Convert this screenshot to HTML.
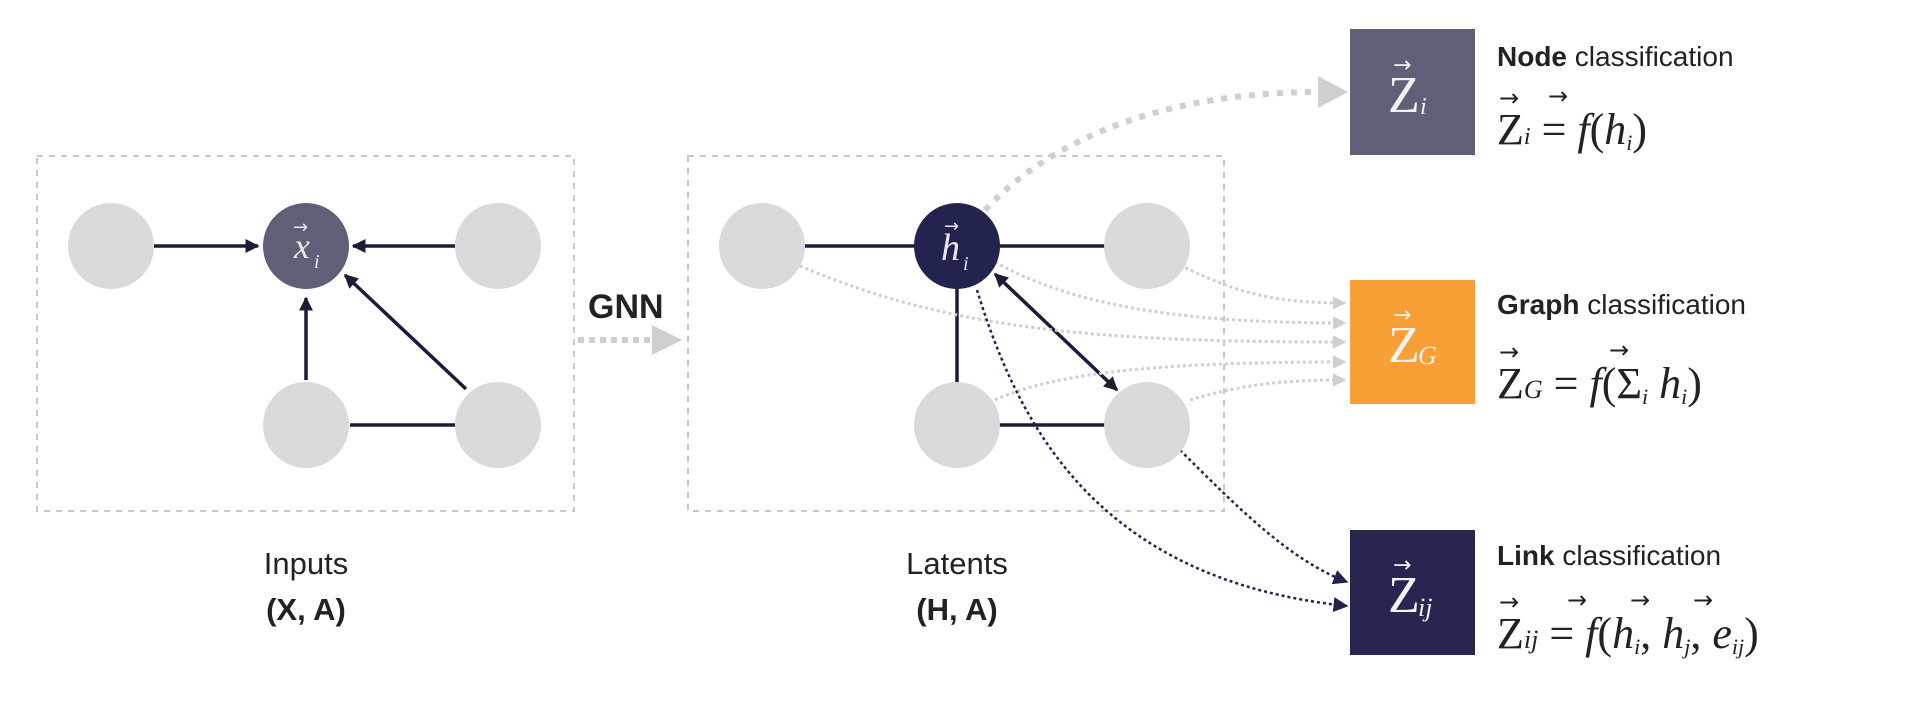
<!DOCTYPE html>
<html><head><meta charset="utf-8"><style>
html,body{margin:0;padding:0;background:#fff;}
svg{display:block}
.lbl{font-family:"Liberation Sans",sans-serif;fill:#222;}
.m{font-family:"Liberation Serif",serif;font-style:italic;}
</style></head><body>
<svg width="1905" height="709" viewBox="0 0 1905 709" xmlns="http://www.w3.org/2000/svg">
<defs>
<marker id="ak" viewBox="0 0 10 10" refX="9" refY="5" markerWidth="4" markerHeight="4" orient="auto-start-reverse"><path d="M0,0 L10,5 L0,10 z" fill="#1c1c38"/></marker>
<marker id="ag" viewBox="0 0 10 10" refX="9" refY="5" markerWidth="4.5" markerHeight="4.5" orient="auto"><path d="M0,0 L10,5 L0,10 z" fill="#cfcfcf"/></marker>
<marker id="ad" viewBox="0 0 10 10" refX="9" refY="5" markerWidth="6" markerHeight="6" orient="auto"><path d="M0,0 L10,5 L0,10 z" fill="#23234f"/></marker>
</defs>

<rect x="37" y="156" width="537" height="355" fill="none" stroke="#c8c8c8" stroke-width="2" stroke-dasharray="6,6"/>
<rect x="688" y="156" width="536" height="355" fill="none" stroke="#c8c8c8" stroke-width="2" stroke-dasharray="6,6"/>

<g stroke="#1c1c38" stroke-width="3.5" fill="none">
<line x1="154" y1="246" x2="258" y2="246" marker-end="url(#ak)"/>
<line x1="455" y1="246" x2="353" y2="246" marker-end="url(#ak)"/>
<line x1="306" y1="380" x2="306" y2="298" marker-end="url(#ak)"/>
<line x1="466" y1="389" x2="345" y2="275" marker-end="url(#ak)"/>
<line x1="350" y1="425" x2="455" y2="425"/>
</g>
<g fill="#dadada">
<circle cx="111" cy="246" r="43"/><circle cx="498" cy="246" r="43"/>
<circle cx="306" cy="425" r="43"/><circle cx="498" cy="425" r="43"/>
</g>
<circle cx="306" cy="246" r="43" fill="#5f5f78"/>
<text x="294" y="258" class="m" font-size="36" fill="#e8e8ee">x</text>
<text x="314" y="268" class="m" font-size="20" fill="#e8e8ee">i</text>
<text x="293" y="233" font-size="18" fill="#e8e8ee" font-family="DejaVu Sans">→</text>

<text x="588" y="318" class="lbl" font-size="34" font-weight="bold" fill="#2e3340">GNN</text>
<line x1="578" y1="340" x2="655" y2="340" stroke="#cfcfcf" stroke-width="6" stroke-dasharray="6,5"/>
<path d="M652,325 L682,340 L652,355 z" fill="#cfcfcf"/>

<g stroke="#1c1c38" stroke-width="3.5" fill="none">
<line x1="762" y1="246" x2="1147" y2="246"/>
<line x1="957" y1="246" x2="957" y2="425"/>
<line x1="957" y1="425" x2="1147" y2="425"/>
<line x1="995" y1="274" x2="1117" y2="390" marker-start="url(#ak)" marker-end="url(#ak)"/>
</g>
<g stroke="#cfcfcf" stroke-width="3" fill="none" stroke-dasharray="3,3">
<path d="M1180,265 C1240,295 1280,303 1345,303" marker-end="url(#ag)"/>
<path d="M995,262 C1080,310 1200,323 1345,323" marker-end="url(#ag)"/>
<path d="M800,266 C950,330 1100,342 1345,342" marker-end="url(#ag)"/>
<path d="M995,400 C1060,370 1180,362 1345,362" marker-end="url(#ag)"/>
<path d="M1190,400 C1240,385 1280,380 1345,380" marker-end="url(#ag)"/>
</g>
<path d="M985,210 C1060,130 1180,92 1320,92" stroke="#cfcfcf" stroke-width="6" fill="none" stroke-dasharray="6,8"/>
<path d="M1318,76 L1348,92 L1318,108 z" fill="#cfcfcf"/>
<g stroke="#23234f" stroke-width="2.5" fill="none" stroke-dasharray="3,3">
<path d="M1180,450 C1240,510 1290,560 1347,582" marker-end="url(#ad)"/>
<path d="M977,290 C1020,430 1100,580 1347,606" marker-end="url(#ad)"/>
</g>
<g fill="#dadada">
<circle cx="762" cy="246" r="43"/><circle cx="1147" cy="246" r="43"/>
<circle cx="957" cy="425" r="43"/><circle cx="1147" cy="425" r="43"/>
</g>
<circle cx="957" cy="246" r="43" fill="#23234f"/>
<text x="941" y="260" class="m" font-size="38" fill="#e8e8ee">h</text>
<text x="963" y="270" class="m" font-size="20" fill="#e8e8ee">i</text>
<text x="944" y="232" font-size="18" fill="#e8e8ee" font-family="DejaVu Sans">→</text>

<text x="306" y="574" class="lbl" font-size="31" text-anchor="middle">Inputs</text>
<text x="306" y="620" class="lbl" font-size="31" font-weight="bold" text-anchor="middle">(X, A)</text>
<text x="957" y="574" class="lbl" font-size="31" text-anchor="middle">Latents</text>
<text x="957" y="620" class="lbl" font-size="31" font-weight="bold" text-anchor="middle">(H, A)</text>

<rect x="1350" y="29" width="125" height="126" fill="#5f5f78"/>
<rect x="1350" y="280" width="125" height="124" fill="#f8a036"/>
<rect x="1350" y="530" width="125" height="125" fill="#262650"/>
<g fill="#f2f2f5" class="m">
<text x="1388" y="112" font-size="52" font-style="normal">Z</text><text x="1420" y="114" font-size="24">i</text>
<text x="1393" y="72" font-size="22" font-family="DejaVu Sans" font-style="normal">→</text>
<text x="1388" y="362" font-size="52" font-style="normal">Z</text><text x="1418" y="364" font-size="26">G</text>
<text x="1393" y="322" font-size="22" font-family="DejaVu Sans" font-style="normal">→</text>
<text x="1388" y="612" font-size="52" font-style="normal">Z</text><text x="1418" y="616" font-size="26">ij</text>
<text x="1393" y="572" font-size="22" font-family="DejaVu Sans" font-style="normal">→</text>
</g>

<g class="lbl" font-size="28">
<text x="1497" y="66"><tspan font-weight="bold">Node</tspan> classification</text>
<text x="1497" y="314"><tspan font-weight="bold">Graph</tspan> classification</text>
<text x="1497" y="565"><tspan font-weight="bold">Link</tspan> classification</text>
</g>
<g font-family="Liberation Serif,serif" fill="#222" font-size="44">
<text x="1497" y="144">Z<tspan font-size="24" font-style="italic">i</tspan> = <tspan font-style="italic">f</tspan>(<tspan font-style="italic">h</tspan><tspan font-size="22" font-style="italic" dy="6">i</tspan><tspan dy="-6">)</tspan></text>
<text x="1497" y="398">Z<tspan font-size="26" font-style="italic">G</tspan> = <tspan font-style="italic">f</tspan>(Σ<tspan font-size="22" font-style="italic" dy="6">i</tspan><tspan dy="-6"> </tspan><tspan font-style="italic">h</tspan><tspan font-size="22" font-style="italic" dy="6">i</tspan><tspan dy="-6">)</tspan></text>
<text x="1497" y="648">Z<tspan font-size="26" font-style="italic">ij</tspan> = <tspan font-style="italic">f</tspan>(<tspan font-style="italic">h</tspan><tspan font-size="22" font-style="italic" dy="6">i</tspan><tspan dy="-6">, </tspan><tspan font-style="italic">h</tspan><tspan font-size="22" font-style="italic" dy="6">j</tspan><tspan dy="-6">, </tspan><tspan font-style="italic">e</tspan><tspan font-size="22" font-style="italic" dy="6">ij</tspan><tspan dy="-6">)</tspan></text>
</g>
<g font-family="DejaVu Sans" fill="#222" font-size="24">
<text x="1499" y="106">→</text><text x="1548" y="104">→</text>
<text x="1499" y="360">→</text><text x="1609" y="358">→</text>
<text x="1499" y="610">→</text><text x="1567" y="608">→</text><text x="1630" y="608">→</text><text x="1693" y="608">→</text>
</g>
</svg>
</body></html>
